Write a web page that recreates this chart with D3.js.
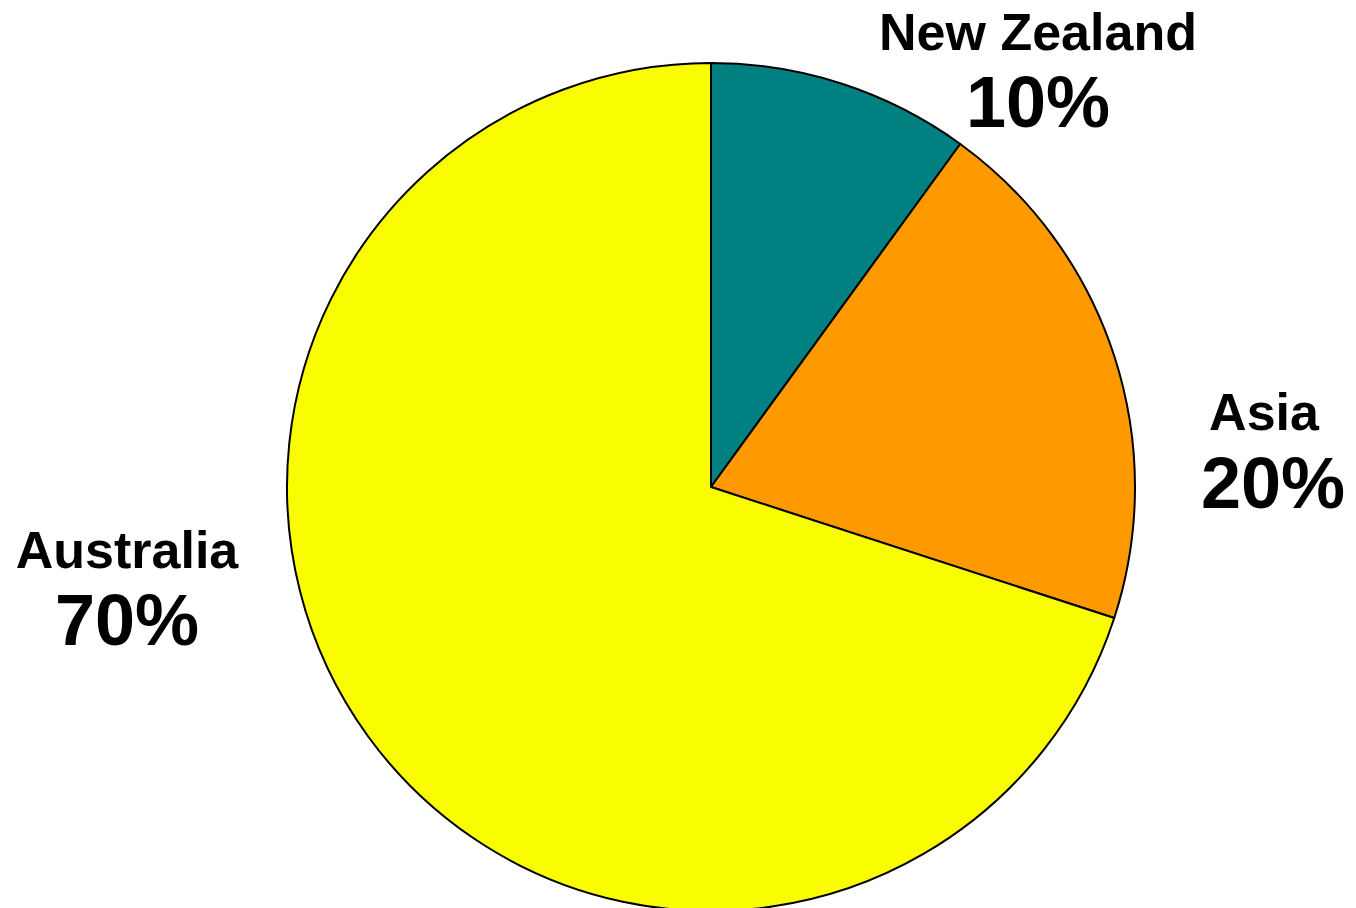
<!DOCTYPE html>
<html>
<head>
<meta charset="utf-8">
<style>
  body { margin: 0; background: #ffffff; }
  svg { display: block; }
  .lbl { font-family: "Liberation Sans", Arial, sans-serif; font-weight: bold; fill: #000; text-anchor: middle; }
</style>
</head>
<body>
<svg id="chart" width="1356" height="908"></svg>
<script src="https://cdn.jsdelivr.net/npm/d3@7"></script>
<script>
  // data
  let regions = ["New Zealand", "Asia", "Australia"]
  let shares = [10, 20, 70]
  let colours = ["#008080", "#FF9900", "#FAFC00"]

  let cx = 711, cy = 487, radius = 424

  let svg = d3.select("#chart")
  let g = svg.append("g").attr("transform", `translate(${cx},${cy})`)

  let data = regions.map((r, i) => ({ name: r, value: shares[i] }))

  let pie = d3.pie().sort(null).value(d => d.value)
  let arc = d3.arc().innerRadius(0).outerRadius(radius)
  let colour = d3.scaleOrdinal().domain(regions).range(colours)

  g.selectAll("path")
    .data(pie(data))
    .enter()
    .append("path")
    .attr("d", arc)
    .attr("fill", d => colour(d.data.name))
    .attr("stroke", "#000")
    .attr("stroke-width", 2)
    .attr("stroke-linejoin", "round")

  // label positions: [name x, name y, value x, value y]
  let labelPos = {
    "New Zealand": [1038, 50, 1038, 127],
    "Asia": [1264, 430, 1273, 508],
    "Australia": [127, 568, 127, 645]
  }

  let labels = svg.selectAll("g.label")
    .data(data)
    .enter()
    .append("g")
    .attr("class", "label")

  labels.append("text")
    .attr("class", "lbl")
    .attr("x", d => labelPos[d.name][0])
    .attr("y", d => labelPos[d.name][1])
    .style("font-size", "52px")
    .text(d => d.name)

  labels.append("text")
    .attr("class", "lbl")
    .attr("x", d => labelPos[d.name][2])
    .attr("y", d => labelPos[d.name][3])
    .style("font-size", "72px")
    .text(d => d.value + "%")
</script>
</body>
</html>
